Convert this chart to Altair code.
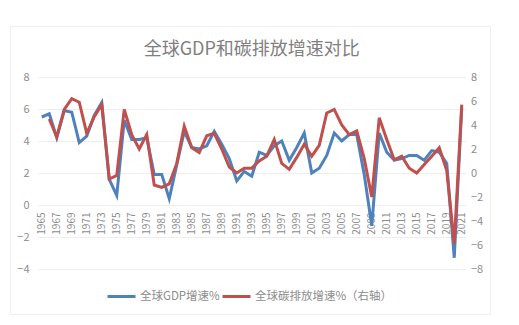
import altair as alt
import pandas as pd

years = list(range(1965, 2022))
gdp = [5.5, 5.7, 4.2, 5.9, 5.8, 3.9, 4.3, 5.6, 6.4, 1.6,
       0.6, 5.3, 4.1, 4.1, 4.2, 1.9, 1.9, 0.4, 2.5, 4.6,
       3.6, 3.5, 3.7, 4.6, 3.8, 2.9, 1.5, 2.1, 1.8, 3.3,
       3.1, 3.7, 4.0, 2.8, 3.6, 4.5, 2.0, 2.3, 3.1, 4.5,
       4.0, 4.4, 4.4, 1.9, -1.3, 4.5, 3.3, 2.8, 2.9, 3.1,
       3.1, 2.8, 3.4, 3.3, 2.6, -3.3, 6.1]
co2 = [None, 4.5, 3.0, 5.3, 6.2, 5.9, 3.3, 4.7, 5.7, -0.5,
       -0.2, 5.3, 3.2, 2.0, 3.2, -1.0, -1.2, -0.9, 0.8, 3.9,
       2.1, 1.7, 3.1, 3.3, 2.0, 0.5, 0.0, 0.4, 0.4, 1.0,
       1.4, 2.8, 0.8, 0.3, 1.3, 2.4, 1.4, 2.3, 5.0, 5.3,
       4.0, 3.2, 3.5, 1.2, -2.0, 4.6, 2.8, 1.1, 1.4, 0.4,
       0.0, 0.7, 1.4, 2.1, 0.2, -5.9, 5.7]
series_names = ["全球GDP增速%", "全球碳排放增速%（右轴）"]
series_colors = ["#4F81BD", "#C0504D"]
year_labels = [str(y) for y in range(1965, 2022, 2)]
left_ticks = [-4, -2, 0, 2, 4, 6, 8]
right_ticks = [-8, -6, -4, -2, 0, 2, 4, 6, 8]
title_text = "全球GDP和碳排放增速对比"

df_gdp = pd.DataFrame({"year": [str(y) for y in years], "value": gdp,
                       "series": series_names[0]})
df_co2 = pd.DataFrame({"year": [str(y) for y in years], "value": co2,
                       "series": series_names[1]}).dropna()

FONT = "Noto Sans CJK SC"
LABEL_COLOR = "#8c8c8c"

x_enc = alt.X(
    "year:O",
    sort=[str(y) for y in years],
    scale=alt.Scale(padding=0.5),
    axis=alt.Axis(values=year_labels, labelAngle=-90, offset=-64,
                  domain=False, ticks=False, grid=False, title=None,
                  labelPadding=7, labelFontSize=10, labelFont=FONT,
                  labelColor=LABEL_COLOR),
)

color_enc = alt.Color(
    "series:N",
    scale=alt.Scale(domain=series_names, range=series_colors),
    legend=alt.Legend(orient="none", direction="horizontal", columns=2,
                      legendX=68, legendY=204, title=None,
                      symbolType="stroke", symbolSize=784,
                      symbolStrokeWidth=3, labelFontSize=11.5,
                      labelFont=FONT, labelColor=LABEL_COLOR,
                      columnPadding=-4, labelOffset=3, padding=0,
                      gridAlign="none", labelLimit=300),
)

gdp_line = alt.Chart(df_gdp).mark_line(strokeWidth=3).encode(
    x=x_enc,
    y=alt.Y("value:Q",
            scale=alt.Scale(domain=[-4, 8], nice=False, zero=False),
            axis=alt.Axis(values=left_ticks, grid=True, gridColor="#eeeeee",
                          domain=False, ticks=False, title=None,
                          labelPadding=9, labelFontSize=11, labelFont=FONT,
                          labelColor=LABEL_COLOR)),
    color=color_enc,
)

co2_line = alt.Chart(df_co2).mark_line(strokeWidth=3).encode(
    x=x_enc,
    y=alt.Y("value:Q",
            scale=alt.Scale(domain=[-8, 8], nice=False, zero=False),
            axis=alt.Axis(orient="right", values=right_ticks, grid=False,
                          domain=False, ticks=False, title=None,
                          labelPadding=5, labelFontSize=11, labelFont=FONT,
                          labelColor=LABEL_COLOR)),
    color=color_enc,
)

frame = alt.Chart(pd.DataFrame({"k": [0]})).mark_rect(
    filled=False, stroke="#eeeeee", strokeWidth=1, clip=False
).encode(
    x=alt.value(-27.5), x2=alt.value(452.5),
    y=alt.value(-50.5), y2=alt.value(237.5),
)

chart = alt.layer(frame, gdp_line, co2_line).resolve_scale(
    y="independent"
).properties(
    width=427.5,
    height=192,
    title=alt.Title(title_text, fontSize=18, font=FONT, color="#7f7f7f",
                    fontWeight="normal", anchor="middle", frame="group",
                    offset=-33),
    autosize=alt.AutoSizeParams(type="none"),
    padding={"left": 38, "top": 77, "right": 53.5, "bottom": 56},
    background="white",
).configure_view(stroke=None)

chart.save("out.html", embed_options={"renderer": "svg", "actions": False})
